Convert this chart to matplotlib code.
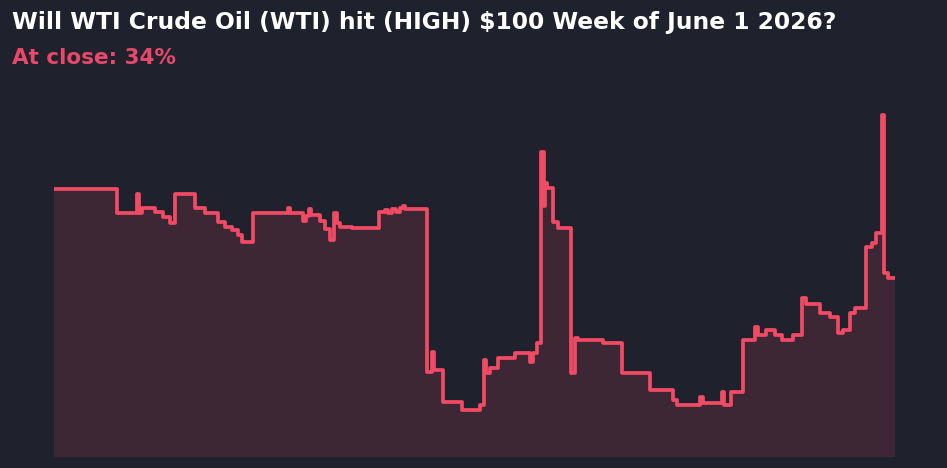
import matplotlib
matplotlib.use("Agg")
import matplotlib.pyplot as plt

# step points: time index (chart px units) and probability of "yes" in percent
t = [0, 63, 83, 85, 88, 101, 109, 116, 121, 141, 151, 164, 171, 178, 184, 188,
     199, 234, 236, 249, 252, 255, 257, 266, 271, 276, 280, 283, 286, 298, 325,
     331, 334, 338, 342, 346, 349, 351, 373, 378, 380, 389, 408, 426, 430, 432,
     436, 444, 461, 476, 479, 483, 487, 490, 491, 493, 499, 504, 517, 521, 524,
     549, 568, 596, 619, 623, 646, 649, 668, 670, 677, 689, 701, 704, 712, 721,
     728, 739, 748, 752, 766, 776, 784, 789, 796, 801, 812, 818, 822, 828, 830,
     834, 841]
prob = [51.2, 46.6, 50.2, 46.6, 47.6, 46.8, 45.8, 44.7, 50.2, 47.6, 46.6, 44.9,
        43.9, 43.4, 42.4, 41.1, 46.6, 47.6, 46.6, 45.0, 46.0, 47.4, 46.2, 45.0,
        43.5, 41.5, 46.6, 44.7, 43.9, 43.7, 46.8, 47.2, 46.6, 47.4, 46.8, 47.6,
        48.0, 47.4, 16.2, 20.1, 16.6, 10.5, 9.0, 9.9, 18.5, 16.0, 17.0, 18.9,
        19.9, 18.1, 19.9, 21.8, 58.3, 48.0, 52.3, 51.4, 44.9, 43.7, 16.0, 22.7,
        22.3, 21.8, 16.0, 12.8, 10.9, 9.9, 11.5, 10.3, 12.4, 9.9, 12.4, 22.3,
        24.8, 23.3, 24.3, 23.3, 22.3, 23.3, 30.4, 29.2, 27.5, 26.7, 23.7, 24.3,
        27.5, 28.5, 40.1, 40.9, 42.8, 65.3, 35.1, 34.2, 34.2]

title = "Will WTI Crude Oil (WTI) hit (HIGH) $100 Week of June 1 2026?"
subtitle = "At close: 34%"

bg = "#1f222c"
red = "#f04a64"

fig = plt.figure(figsize=(9.47, 4.68), dpi=100, facecolor=bg)
ax = fig.add_axes([54 / 947, 11 / 468, 841 / 947, 357 / 468])
ax.set_facecolor(bg)

ax.fill_between(t, prob, 0, step="post", color=red, alpha=0.15, linewidth=0)
ax.plot(t, prob, drawstyle="steps-post", color=red, linewidth=2.7,
        solid_joinstyle="round", solid_capstyle="round")

ax.set_xlim(t[0], t[-1])
ax.set_ylim(0, 68.2)
ax.axis("off")

fig.text(12 / 947, 1 - 29.5 / 468, title, color="white", fontsize=16.8,
         fontweight="bold", va="baseline", ha="left")
fig.text(12 / 947, 1 - 64 / 468, subtitle, color="#e8486a", fontsize=15.5,
         fontweight="bold", va="baseline", ha="left")

fig.savefig("out.png", dpi=100, facecolor=bg)
